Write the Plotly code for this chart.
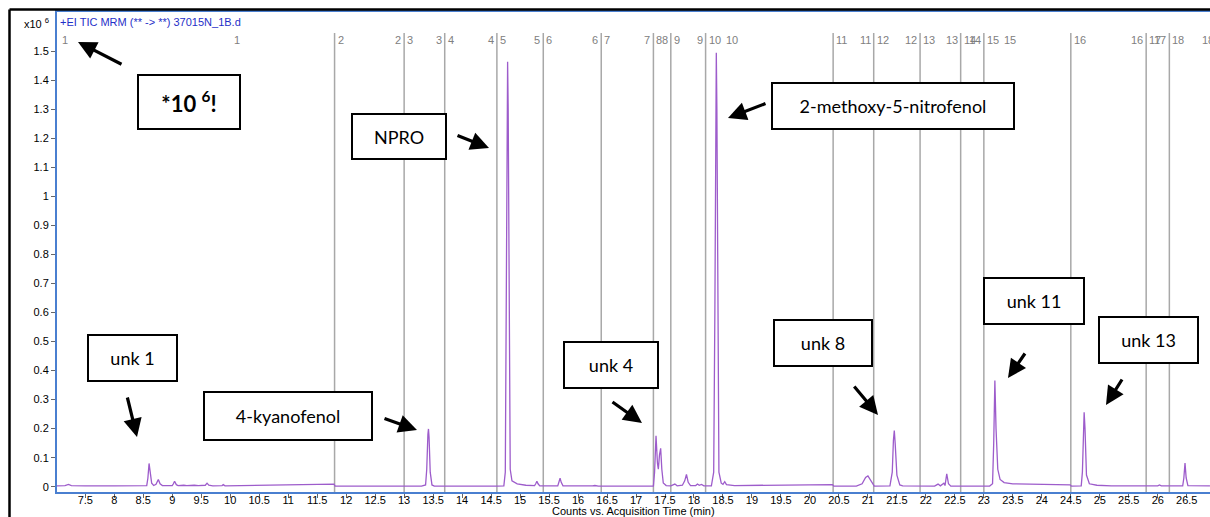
import plotly.graph_objects as go

# ---------------- data ----------------
time_min = [
    7.01, 7.15, 7.21, 7.26, 7.5, 7.55, 7.6, 8.0, 8.5, 8.56, 8.58, 8.60, 8.62, 8.645, 8.68,
    8.72, 8.76, 8.79, 8.83, 9.0, 9.02, 9.04, 9.07, 9.1, 9.2, 9.25, 9.38, 9.45, 9.57, 9.60,
    9.63, 9.7, 9.86, 9.88, 9.91, 10.2, 10.5, 11.0, 11.5, 11.79, 11.81, 12.3, 12.79, 12.85,
    13.3, 13.37, 13.39, 13.41, 13.42, 13.43, 13.45, 13.48, 13.52, 14.6, 14.72, 14.745, 14.76,
    14.775, 14.785, 14.795, 14.81, 14.83, 14.86, 14.95, 15.1, 15.25, 15.27, 15.29, 15.31,
    15.34, 15.65, 15.67, 15.69, 15.71, 15.74, 16.25, 16.29, 16.35, 17.3, 17.32, 17.345,
    17.37, 17.385, 17.405, 17.425, 17.445, 17.47, 17.52, 17.6, 17.67, 17.71, 17.8, 17.84,
    17.87, 17.90, 17.94, 18.03, 18.06, 18.09, 18.13, 18.17, 18.3, 18.34, 18.36, 18.375,
    18.385, 18.395, 18.41, 18.43, 18.47, 18.5, 18.53, 18.56, 18.7, 19.5, 20.39, 20.41, 20.8,
    20.9, 20.96, 21.0, 21.04, 21.09, 21.11, 21.38, 21.42, 21.44, 21.455, 21.47, 21.5, 21.55,
    21.6, 22.15, 22.21, 22.25, 22.31, 22.33, 22.36, 22.39, 22.43, 23.1, 23.15, 23.17, 23.19,
    23.21, 23.24, 23.28, 23.35, 23.5, 24.0, 24.49, 24.51, 24.68, 24.70, 24.72, 24.73, 24.745,
    24.77, 24.82, 24.95, 25.2, 26.0, 26.03, 26.06, 26.43, 26.45, 26.47, 26.49, 26.52, 26.9,
]
counts_1e6 = [
    0.003, 0.004, 0.008, 0.004, 0.003, 0.004, 0.003, 0.003, 0.003, 0.004, 0.03, 0.080, 0.05, 0.012, 0.004,
    0.008, 0.025, 0.01, 0.004, 0.004, 0.01, 0.019, 0.007, 0.004, 0.005, 0.004, 0.005, 0.004, 0.005, 0.012,
    0.005, 0.003, 0.004, 0.007, 0.003, 0.004, 0.005, 0.007, 0.008, 0.009, 0.002, 0.002, 0.004, 0.002,
    0.002, 0.006, 0.06, 0.18, 0.199, 0.17, 0.05, 0.006, 0.002, 0.002, 0.003, 0.05, 0.6,
    1.3, 1.464, 1.3, 0.5, 0.06, 0.02, 0.01, 0.005, 0.004, 0.01, 0.019, 0.01,
    0.003, 0.003, 0.015, 0.029, 0.015, 0.003, 0.003, 0.004, 0.002, 0.002, 0.05, 0.175,
    0.08, 0.06, 0.11, 0.132, 0.06, 0.013, 0.004, 0.003, 0.009, 0.003, 0.005, 0.02,
    0.042, 0.015, 0.004, 0.004, 0.009, 0.005, 0.008, 0.003, 0.003, 0.05, 0.6, 1.3,
    1.495, 1.3, 0.5, 0.05, 0.012, 0.008, 0.017, 0.007, 0.004, 0.005, 0.007, 0.002, 0.002,
    0.01, 0.032, 0.037, 0.025, 0.008, 0.002, 0.003, 0.05, 0.16, 0.193, 0.15, 0.04, 0.006,
    0.003, 0.002, 0.009, 0.003, 0.012, 0.004, 0.044, 0.01, 0.002, 0.002, 0.01, 0.15, 0.366,
    0.2, 0.06, 0.025, 0.014, 0.01, 0.007, 0.006, 0.002, 0.003, 0.05, 0.2, 0.256, 0.2,
    0.04, 0.01, 0.005, 0.003, 0.003, 0.006, 0.003, 0.003, 0.03, 0.081, 0.03, 0.004, 0.003,
]

segment_boundaries = [11.8, 13.0, 13.7, 14.6, 15.4, 16.4, 17.3, 17.6, 18.2,
                      20.4, 21.1, 21.9, 22.6, 23.0, 24.5, 25.8, 26.2]
segment_start_labels = ['2', '3', '4', '5', '6', '7', '8', '9', '10',
                        '11', '12', '13', '14', '15', '16', '17', '18']
segment_end_times = [10.22, 13.0, 13.7, 14.6, 15.4, 16.4, 17.3, 17.6, 18.2,
                     18.81, 21.1, 21.9, 22.6, 23.0, 23.6, 25.8, 26.2, 27.02]
segment_end_labels = ['1', '2', '3', '4', '5', '6', '7', '8', '9',
                      '10', '11', '12', '13', '14', '15', '16', '17', '18']

y_tick_vals = [0, 0.1, 0.2, 0.3, 0.4, 0.5, 0.6, 0.7, 0.8, 0.9, 1.0, 1.1, 1.2, 1.3, 1.4, 1.5]

callout_texts = ['*10 <sup>6</sup>!', 'NPRO', '2-methoxy-5-nitrofenol', 'unk 1',
                 '4-kyanofenol', 'unk 4', 'unk 8', 'unk 11', 'unk 13']

# ---------------- layout geometry (pixels) ----------------
W, H = 1210, 517
PL, PR, PT, PB = 57, 1210, 12, 492
X_RANGE = [7.012, 26.901]
Y_RANGE = [-0.0183, 1.6352]


def px(X):
    return (X - PL) / (PR - PL)


def py(Y):
    return (PB - Y) / (PB - PT)


def t2paper(t):
    return (t - X_RANGE[0]) / (X_RANGE[1] - X_RANGE[0])


# callout boxes: (left, top, right, bottom) in pixels
callout_boxes = [
    (137, 74, 241, 130),
    (351, 113, 447, 160),
    (771, 82, 1015, 130),
    (87, 334, 178, 382),
    (203, 391, 373, 441),
    (563, 341, 659, 389),
    (773, 319, 873, 367),
    (983, 277, 1085, 325),
    (1098, 316, 1199, 364),
]
# arrows: (tail_x, tail_y, tip_x, tip_y) in pixels
arrows = [
    (123, 65, 78, 42),
    (456, 135, 489, 148),
    (767, 103, 728, 118),
    (127, 396, 137, 437),
    (383, 418, 417, 430),
    (611, 401, 642, 423),
    (853, 385, 878, 415),
    (1026, 352, 1008, 378),
    (1123, 378, 1106, 405),
]

fig = go.Figure()
fig.add_trace(go.Scatter(
    x=time_min, y=counts_1e6, mode='lines',
    line=dict(color='#9d5ccb', width=1.3),
    hoverinfo='skip', showlegend=False,
))

shapes = []
for b in segment_boundaries:
    shapes.append(dict(type='line', xref='x', yref='paper', x0=b, x1=b,
                       y0=0, y1=py(33), line=dict(color='#a8a8a8', width=1.5),
                       layer='below'))
# outer black frame (left and top)
shapes.append(dict(type='line', xref='paper', yref='paper', x0=px(9.5), x1=px(9.5),
                   y0=py(9.5), y1=py(520), line=dict(color='black', width=2.5)))
shapes.append(dict(type='line', xref='paper', yref='paper', x0=px(9.5), x1=px(1215),
                   y0=py(9.5), y1=py(9.5), line=dict(color='black', width=2.5)))

annotations = []
label_font = dict(family='Liberation Sans, Arial', size=11, color='#808080')
annotations.append(dict(text='1', xref='paper', yref='paper', x=0, y=py(40),
                        xanchor='left', yanchor='middle', xshift=3,
                        showarrow=False, font=label_font))
for b, lab in zip(segment_boundaries, segment_start_labels):
    annotations.append(dict(text=lab, xref='paper', yref='paper', x=t2paper(b), y=py(40),
                            xanchor='left', yanchor='middle', xshift=1,
                            showarrow=False, font=label_font))
for e, lab in zip(segment_end_times, segment_end_labels):
    annotations.append(dict(text=lab, xref='paper', yref='paper', x=t2paper(e), y=py(40),
                            xanchor='right', yanchor='middle', xshift=-1,
                            showarrow=False, font=label_font))

# chart title and multiplier
annotations.append(dict(text='+EI TIC MRM (** -> **) 37015N_1B.d', xref='paper', yref='paper',
                        x=px(58), y=py(22), xanchor='left', yanchor='middle', showarrow=False,
                        font=dict(family='Liberation Sans, Arial', size=11, color='#1f2fc8')))
annotations.append(dict(text='x10 <sup>6</sup>', xref='paper', yref='paper',
                        x=px(51), y=py(23), xanchor='right', yanchor='middle', showarrow=False,
                        font=dict(family='Liberation Sans, Arial', size=11, color='black')))
annotations.append(dict(text='Counts vs. Acquisition Time (min)', xref='paper', yref='paper',
                        x=0.5, y=py(511), xanchor='center', yanchor='middle', showarrow=False,
                        font=dict(family='Liberation Sans, Arial', size=11, color='black')))

for txt, (l, t, r, b) in zip(callout_texts, callout_boxes):
    bold = txt.startswith('*')
    annotations.append(dict(
        text=('<b>' + txt + '</b>') if bold else txt,
        xref='paper', yref='paper', x=px((l + r) / 2), y=py((t + b) / 2),
        xanchor='center', yanchor='middle', showarrow=False,
        width=r - l - 4, height=b - t - 4, align='center', valign='middle',
        bgcolor='white', bordercolor='black', borderwidth=2, borderpad=0,
        font=dict(family='Lato, Carlito, sans-serif', size=22 if bold else 18, color='black'),
    ))

for (tx, ty, hx, hy) in arrows:
    annotations.append(dict(
        text='', xref='paper', yref='paper', x=px(hx), y=py(hy),
        ax=tx - hx, ay=ty - hy, axref='pixel', ayref='pixel',
        showarrow=True, arrowhead=2, arrowsize=1.15, arrowwidth=3.2,
        arrowcolor='black', standoff=0,
    ))

axis_font = dict(family='Liberation Sans, Arial', size=11, color='black')
fig.update_layout(
    width=W, height=H,
    margin=dict(l=PL, r=W - PR, t=PT, b=H - PB, pad=0),
    paper_bgcolor='white', plot_bgcolor='white',
    shapes=shapes, annotations=annotations,
    xaxis=dict(range=X_RANGE, tick0=7.5, dtick=0.5, showgrid=False, zeroline=False,
               showline=True, linecolor='#4a7fd0', linewidth=2, mirror=True,
               ticks='outside', ticklen=4, tickcolor='#666666', tickfont=axis_font,
               ticklabelstandoff=-7),
    yaxis=dict(range=Y_RANGE, tickvals=y_tick_vals, showgrid=False, zeroline=False,
               showline=True, linecolor='#4a7fd0', linewidth=2,
               ticks='outside', ticklen=4, tickcolor='#666666', tickfont=axis_font),
)

fig.write_html('out.html', config={'displayModeBar': False},
               post_script="document.body.style.margin='0px';document.body.style.overflow='hidden';")
